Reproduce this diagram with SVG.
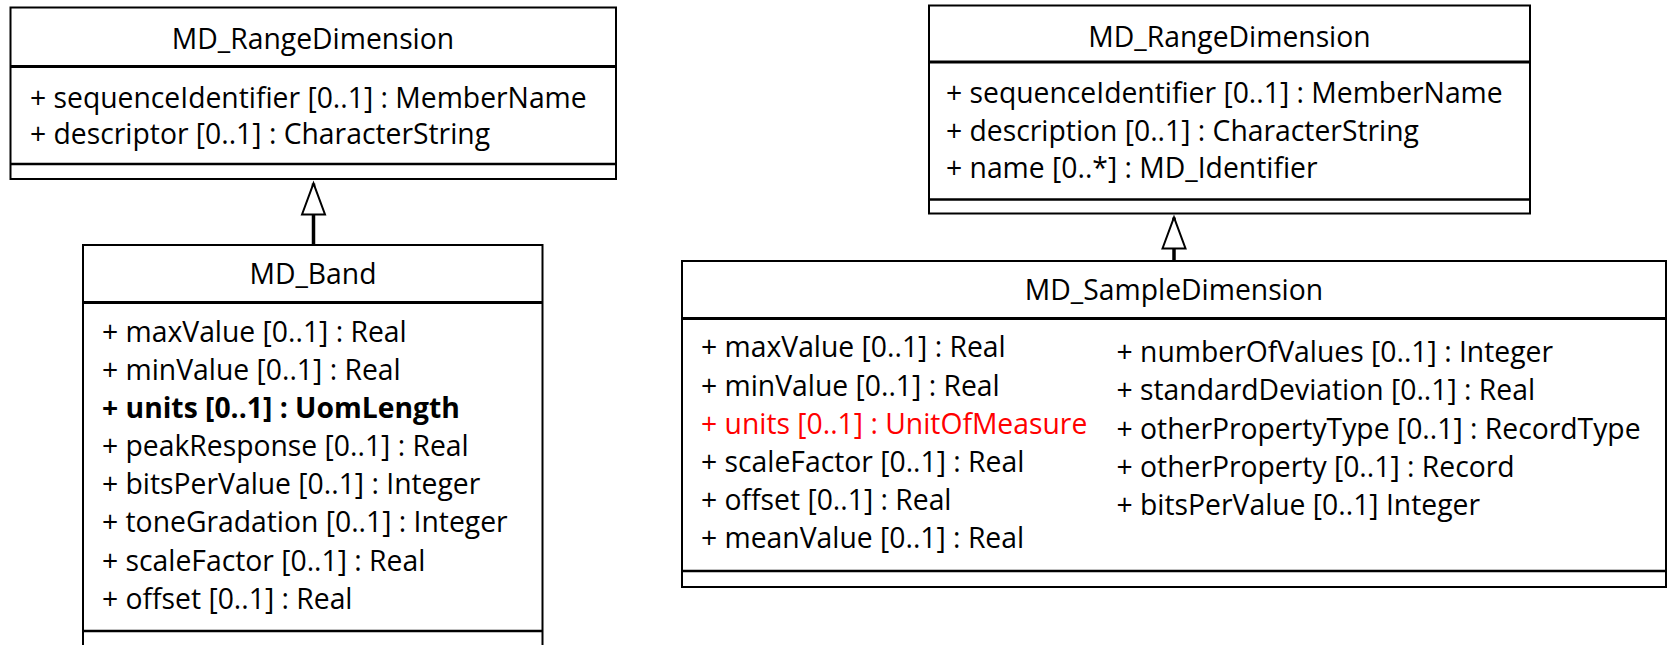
<svg xmlns="http://www.w3.org/2000/svg" width="1668" height="645" viewBox="0 0 1668 645">
<style>
text{font-family:"Open Sans","Noto Sans",sans-serif;font-size:28.3px;fill:#000}
.t{text-anchor:middle}
.box{fill:#fff;stroke:#000;stroke-width:2}
.hd{stroke:#000;stroke-width:3}
.dv{stroke:#000;stroke-width:2.5}
.b{font-weight:bold}
.red{fill:#FF0000}
.conn{stroke:#000;stroke-width:3.5;fill:none}
</style>
<defs>
<marker id="gen" viewBox="0 0 31 23" refX="31" refY="11.5" markerWidth="31" markerHeight="23" markerUnits="userSpaceOnUse" orient="auto" overflow="visible">
<path d="M0,0 L31,11.5 L0,23 Z" fill="#fff" stroke="#000" stroke-width="2"/>
</marker>
</defs>
<rect width="1668" height="645" fill="#fff"/>

<g id="rangeDimLeft">
<rect class="box" x="10.5" y="7.5" width="605.5" height="171.5"/>
<line class="hd" x1="10.5" y1="66.5" x2="616" y2="66.5"/>
<line class="dv" x1="10.5" y1="164" x2="616" y2="164"/>
<text class="t" x="313" y="49">MD_RangeDimension</text>
<text x="30" y="107.5">+ sequenceIdentifier [0..1] : MemberName</text>
<text x="30" y="143.5">+ descriptor [0..1] : CharacterString</text>
</g>

<g id="band">
<rect class="box" x="83" y="245" width="459.5" height="420"/>
<line class="hd" x1="83" y1="302.5" x2="542.5" y2="302.5"/>
<line class="dv" x1="83" y1="631" x2="542.5" y2="631"/>
<text class="t" x="313" y="283.5">MD_Band</text>
<text x="102" y="341.5">+ maxValue [0..1] : Real</text>
<text x="102" y="379.5">+ minValue [0..1] : Real</text>
<text class="b" x="102" y="417.5">+ units [0..1] : UomLength</text>
<text x="102" y="455.5">+ peakResponse [0..1] : Real</text>
<text x="102" y="493.5">+ bitsPerValue [0..1] : Integer</text>
<text x="102" y="532">+ toneGradation [0..1] : Integer</text>
<text x="102" y="570.5">+ scaleFactor [0..1] : Real</text>
<text x="102" y="609">+ offset [0..1] : Real</text>
</g>

<g id="rangeDimRight">
<rect class="box" x="929" y="5.5" width="601" height="208"/>
<line class="hd" x1="929" y1="62" x2="1530" y2="62"/>
<line class="dv" x1="929" y1="199.5" x2="1530" y2="199.5"/>
<text class="t" x="1229.5" y="46.5">MD_RangeDimension</text>
<text x="946" y="103">+ sequenceIdentifier [0..1] : MemberName</text>
<text x="946" y="140.5">+ description [0..1] : CharacterString</text>
<text x="946" y="178">+ name [0..*] : MD_Identifier</text>
</g>

<g id="sampleDim">
<rect class="box" x="682" y="261" width="984" height="326"/>
<line class="hd" x1="682" y1="318.5" x2="1666" y2="318.5"/>
<line class="dv" x1="682" y1="571" x2="1666" y2="571"/>
<text class="t" x="1174" y="300">MD_SampleDimension</text>
<text x="701" y="357">+ maxValue [0..1] : Real</text>
<text x="701" y="395.5">+ minValue [0..1] : Real</text>
<text class="red" x="701" y="433.5">+ units [0..1] : UnitOfMeasure</text>
<text x="701" y="471.5">+ scaleFactor [0..1] : Real</text>
<text x="701" y="510">+ offset [0..1] : Real</text>
<text x="701" y="548">+ meanValue [0..1] : Real</text>
<text x="1116.5" y="361.5">+ numberOfValues [0..1] : Integer</text>
<text x="1116.5" y="400">+ standardDeviation [0..1] : Real</text>
<text x="1116.5" y="438.5">+ otherPropertyType [0..1] : RecordType</text>
<text x="1116.5" y="476.5">+ otherProperty [0..1] : Record</text>
<text x="1116.5" y="515">+ bitsPerValue [0..1] Integer</text>
</g>

<g id="connectors">
<line class="conn" x1="313.5" y1="245" x2="313.5" y2="183.5" marker-end="url(#gen)"/>
<line class="conn" x1="1174" y1="261" x2="1174" y2="217.5" marker-end="url(#gen)"/>
</g>
</svg>
